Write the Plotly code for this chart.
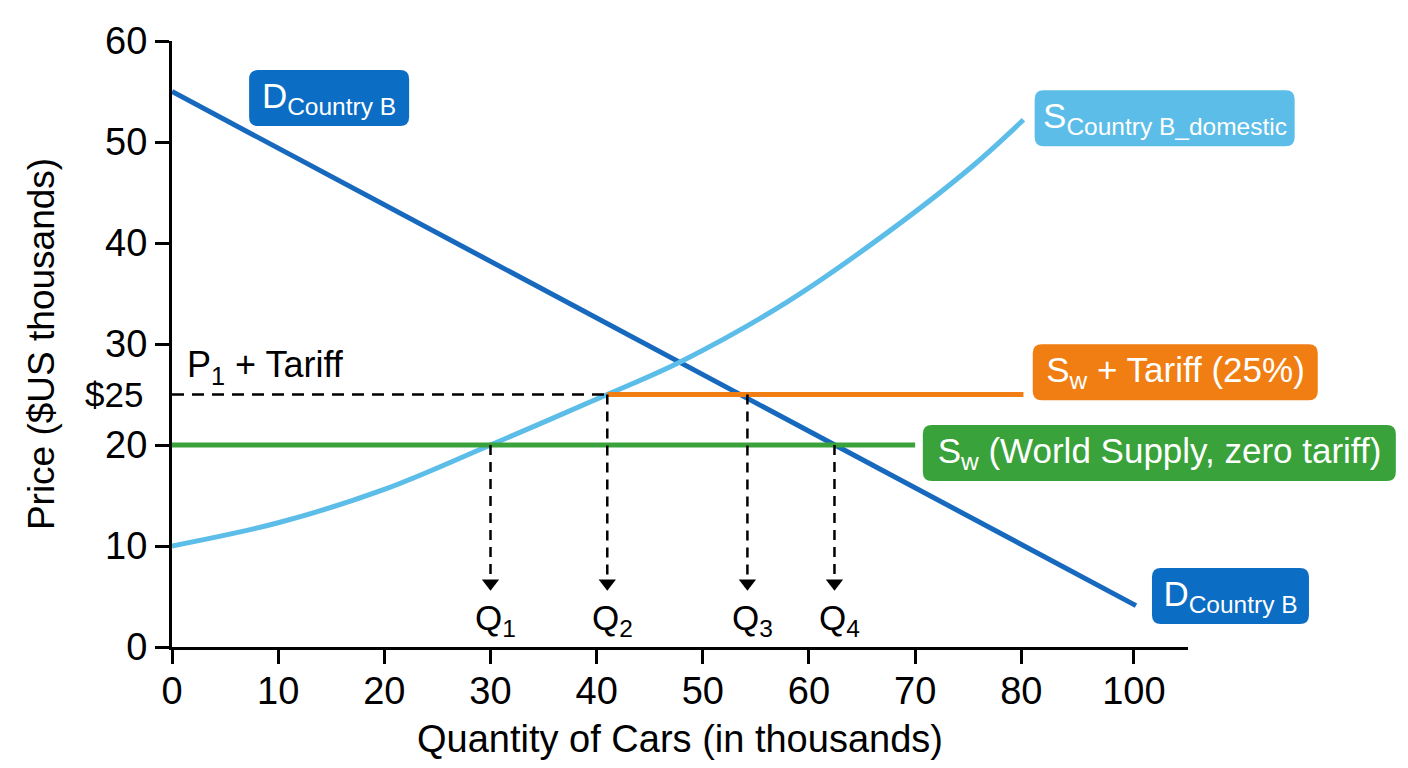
import plotly.graph_objects as go

# curvas (quantidade em milhares, preco em milhares de US$)
demand_q = [0, 90.8]
demand_p = [55, 4.1]

supply_q = [0, 10, 20, 30, 41, 48, 58, 67.6, 75.5, 80.2]
supply_p = [10, 12.3, 15.6, 20, 25, 28.3, 34.2, 41.2, 47.7, 52.2]

world_q = [0, 70]
world_p = [20, 20]

tariff_q = [41, 80.2]
tariff_p = [25, 25]

p1_tariff = 25
q_labels = ["Q<sub>1</sub>", "Q<sub>2</sub>", "Q<sub>3</sub>", "Q<sub>4</sub>"]
q_vals = [30, 41, 54.2, 62.4]
q_from = [20, 25, 25, 20]
arrow_tip = 6.3

x_ticks = [0, 10, 20, 30, 40, 50, 60, 70, 80, 90.6]
x_text = ["0", "10", "20", "30", "40", "50", "60", "70", "80", "100"]
y_ticks = [0, 10, 20, 30, 40, 50, 60]
X_MAX, Y_MAX = 95.7, 60

FONT = "Liberation Sans, Arial, sans-serif"
AZUL = "#1769bd"
AZUL_BOX = "#0b6dc3"
CELESTE = "#5bbde8"
LARANJA = "#f07e12"
VERDE = "#3aa23a"

fig = go.Figure()

fig.add_trace(go.Scatter(x=demand_q, y=demand_p, mode="lines",
                         line=dict(color=AZUL, width=5), showlegend=False))
fig.add_trace(go.Scatter(x=supply_q, y=supply_p, mode="lines",
                         line=dict(color=CELESTE, width=5, shape="spline", smoothing=1),
                         showlegend=False))
fig.add_trace(go.Scatter(x=world_q, y=world_p, mode="lines",
                         line=dict(color=VERDE, width=5), showlegend=False))
fig.add_trace(go.Scatter(x=tariff_q, y=tariff_p, mode="lines",
                         line=dict(color=LARANJA, width=5), showlegend=False))
fig.add_trace(go.Scatter(x=[0, q_vals[1]], y=[p1_tariff, p1_tariff], mode="lines",
                         line=dict(color="black", width=2.5, dash="12px,8px"),
                         showlegend=False))

# setas tracejadas ate o eixo
for q, p0 in zip(q_vals, q_from):
    fig.add_trace(go.Scatter(x=[q, q], y=[p0, arrow_tip + 0.5], mode="lines",
                             line=dict(color="black", width=2.5, dash="10px,7px"),
                             showlegend=False))
fig.add_trace(go.Scatter(x=q_vals, y=[arrow_tip] * 4, mode="markers",
                         marker=dict(symbol="triangle-down", size=15, color="black"),
                         showlegend=False))

for q, lab in zip(q_vals, q_labels):
    fig.add_annotation(x=q, y=2.7, text=lab, showarrow=False, xshift=5,
                       font=dict(size=35, color="black", family=FONT))

fig.add_annotation(x=1.2, y=25.2, text="P<sub>1</sub> + Tariff", showarrow=False,
                   xanchor="left", yanchor="bottom",
                   font=dict(size=36, color="black", family=FONT))
fig.add_annotation(xref="paper", x=0, y=25, text="$25", showarrow=False,
                   xanchor="right", xshift=-27,
                   font=dict(size=35, color="black", family=FONT))


def caixa_arredondada(w, h, r=9):
    a, b = w / 2, h / 2
    return (f"M {-a + r},{-b} L {a - r},{-b} Q {a},{-b} {a},{-b + r} "
            f"L {a},{b - r} Q {a},{b} {a - r},{b} L {-a + r},{b} "
            f"Q {-a},{b} {-a},{b - r} L {-a},{-b + r} Q {-a},{-b} {-a + r},{-b} Z")


# caixas de rotulo (posicao em unidades do grafico)
caixas = [
    (14.8, 54.35, "D<sub>Country B</sub>", AZUL_BOX, 160),
    (93.5, 52.35, "S<sub>Country B_domestic</sub>", CELESTE, 260),
    (94.5, 27.2, "S<sub>w</sub> + Tariff (25%)", LARANJA, 285),
    (93.0, 19.2, "S<sub>w</sub> (World Supply, zero tariff)", VERDE, 473),
    (99.7, 5.05, "D<sub>Country B</sub>", AZUL_BOX, 157),
]
for x, y, txt, cor, w in caixas:
    # coordenadas de papel para nao recortar fora da area do grafico
    px_, py_ = x / X_MAX, y / Y_MAX
    fig.add_shape(type="path", xref="paper", yref="paper",
                  xsizemode="pixel", ysizemode="pixel",
                  xanchor=px_, yanchor=py_, path=caixa_arredondada(w, 56),
                  fillcolor=cor, line=dict(width=0), layer="above")
    fig.add_annotation(xref="paper", yref="paper", x=px_, y=py_, text=txt,
                       showarrow=False, width=w, height=56, borderpad=0,
                       align="center", xanchor="center", yanchor="middle",
                       font=dict(size=35, color="white", family=FONT))

fig.update_layout(
    width=1400, height=760,
    margin=dict(l=164, r=220, t=30, b=121),
    plot_bgcolor="white", paper_bgcolor="white",
    font=dict(family=FONT, color="black", size=38),
)
fig.update_xaxes(range=[0, X_MAX], tickvals=x_ticks, ticktext=x_text,
                 showline=True, linecolor="black", linewidth=3,
                 ticks="outside", ticklen=14, tickwidth=3, tickcolor="black",
                 ticklabelstandoff=-6,
                 showgrid=False, zeroline=False,
                 title=dict(text="Quantity of Cars (in thousands)", font=dict(size=38)))
fig.update_yaxes(range=[0, Y_MAX], tickvals=y_ticks,
                 showline=True, linecolor="black", linewidth=3,
                 ticks="outside", ticklen=14, tickwidth=3, tickcolor="black",
                 showgrid=False, zeroline=False,
                 title=dict(text="Price ($US thousands)", font=dict(size=37), standoff=40))

fig.write_html("out.html")
